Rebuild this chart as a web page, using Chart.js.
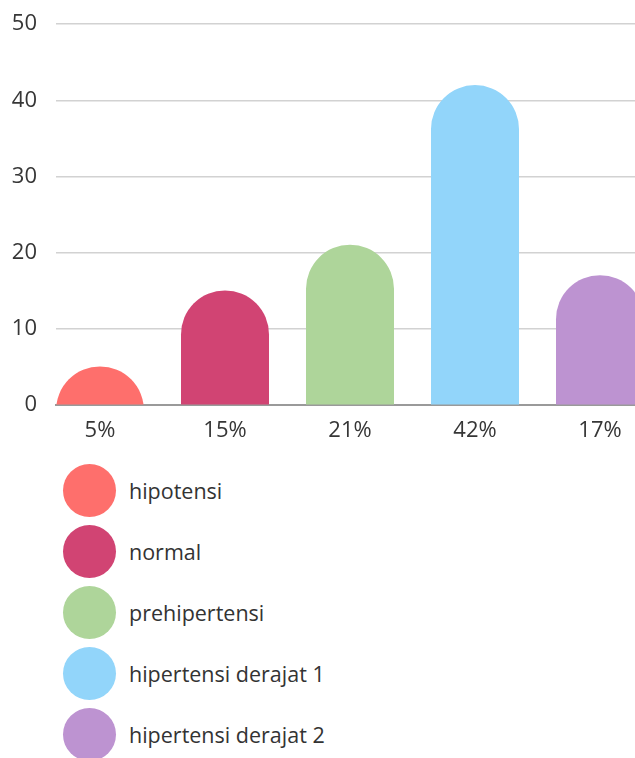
<!DOCTYPE html>
<html>
<head>
<meta charset="utf-8">
<script src="https://cdn.jsdelivr.net/npm/chart.js@4/dist/chart.umd.min.js"></script>
<style>
  html, body { margin: 0; padding: 0; background: #ffffff; }
  #wrap { width: 635px; height: 758px; overflow: hidden; position: relative; }
  #chartBox { width: 635px; height: 458.5px; margin-top: -8.5px; position: relative; }
  #legend { list-style: none; margin: 14px 0 0 0; padding: 0; font-family: "Open Sans", sans-serif; }
  #legend li { display: flex; align-items: center; height: 53px; margin-bottom: 8px; padding-left: 63px; }
  #legend .dot { width: 53px; height: 53px; border-radius: 50%; flex: 0 0 auto; }
  #legend .txt { margin-left: 13px; font-size: 21.5px; color: #333333; white-space: nowrap; }
</style>
</head>
<body>
<div id="wrap">
  <div id="chartBox"><canvas id="chart"></canvas></div>
  <ul id="legend"></ul>
</div>
<script>
// Blood pressure categories and their counts
const categories = ['hipotensi', 'normal', 'prehipertensi', 'hipertensi derajat 1', 'hipertensi derajat 2'];
const values = [5, 15, 21, 42, 17];
const tickLabels = ['5%', '15%', '21%', '42%', '17%'];
const yTicks = [0, 10, 20, 30, 40, 50];
const colors = ['#FE6F6C', '#D14473', '#AED59A', '#92D5FA', '#BD93D1'];

const tickFont = { family: 'Open Sans', size: 22 };
const textColor = '#363636';

const chart = new Chart(document.getElementById('chart'), {
  type: 'bar',
  data: {
    datasets: [{
      data: values.map((v, i) => ({ x: i, y: v })),
      backgroundColor: colors,
      borderWidth: 0,
      borderRadius: 44,
      borderSkipped: 'start',
      // start the columns below the axis so the rounded caps stay full; the plot area clips them
      base: -7,
      clip: 0,
      categoryPercentage: 1,
      barPercentage: 0.704
    }]
  },
  options: {
    responsive: true,
    maintainAspectRatio: false,
    animation: false,
    layout: { padding: { top: 0, left: 0, right: 0, bottom: 0 } },
    plugins: {
      legend: { display: false },
      tooltip: { enabled: false }
    },
    scales: {
      x: {
        type: 'linear',
        offset: false,
        min: -0.352,
        max: 4.28,
        grid: { display: false, offset: false },
        border: { display: true, color: '#9a9a9a', width: 2 },
        afterBuildTicks: axis => { axis.ticks = tickLabels.map((_, i) => ({ value: i })); },
        afterFit: scale => { scale.height = 46; },
        ticks: {
          padding: 5,
          font: tickFont,
          color: textColor,
          maxRotation: 0,
          autoSkip: false,
          callback: v => tickLabels[v] ?? ''
        }
      },
      y: {
        min: yTicks[0],
        max: yTicks[yTicks.length - 1],
        afterBuildTicks: axis => { axis.ticks = yTicks.map(v => ({ value: v })); },
        afterFit: scale => { scale.width = 56; },
        grid: { color: '#d2d2d2', lineWidth: 1.5, drawTicks: false },
        border: { display: false },
        ticks: {
          padding: 19,
          font: tickFont,
          color: textColor
        }
      }
    }
  }
});

// Legend list: one swatch and name per category
const legend = document.getElementById('legend');
categories.forEach((name, i) => {
  const li = document.createElement('li');
  const dot = document.createElement('span');
  dot.className = 'dot';
  dot.style.background = colors[i];
  const txt = document.createElement('span');
  txt.className = 'txt';
  txt.textContent = name;
  li.appendChild(dot);
  li.appendChild(txt);
  legend.appendChild(li);
});
</script>
</body>
</html>
